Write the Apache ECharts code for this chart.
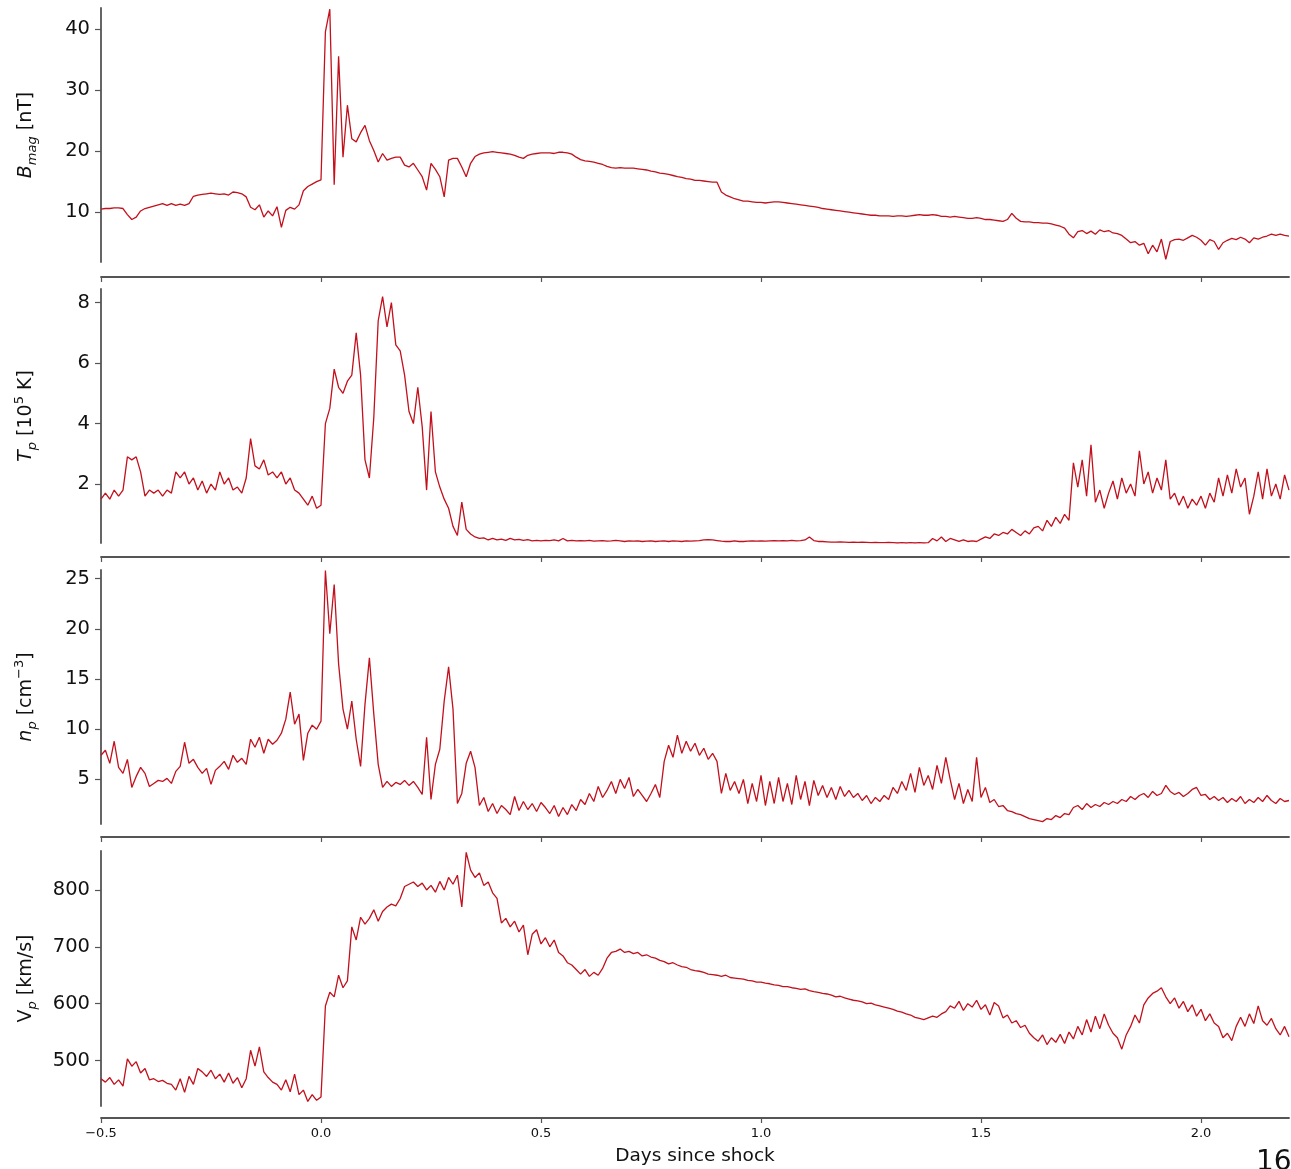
<!DOCTYPE html>
<html>
<head>
<meta charset="utf-8">
<script src="https://cdn.jsdelivr.net/npm/echarts@6/dist/echarts.min.js"></script>
<style>
  html, body { margin: 0; padding: 0; background: #fff; }
  #chart { width: 1291px; height: 1169px; }
</style>
</head>
<body>
<div id="chart"></div>
<script>
// sampling of the traces: one reading every 0.01 day from -0.5 to 2.2
const T0 = -0.5;
const DT = 0.01;

const xTicks = [-0.5, 0, 0.5, 1, 1.5, 2];

// |B| [nT]
const bmag = [
  10.5, 10.6, 10.6, 10.7, 10.7, 10.6, 9.6, 8.8, 9.2, 10.2,
  10.6, 10.8, 11.0, 11.2, 11.4, 11.1, 11.4, 11.1, 11.3, 11.1,
  11.4, 12.6, 12.8, 12.9, 13.0, 13.1, 13.0, 12.9, 13.0, 12.8,
  13.3, 13.2, 13.0, 12.5, 10.8, 10.4, 11.2, 9.2, 10.2, 9.4,
  10.9, 7.5, 10.3, 10.8, 10.5, 11.2, 13.5, 14.2, 14.6, 15.0,
  15.3, 39.5, 43.2, 14.5, 35.5, 19.0, 27.5, 22.0, 21.5, 23.0,
  24.2, 21.7, 20.1, 18.2, 19.6, 18.5, 18.8, 19.0, 19.0, 17.7,
  17.4, 18.0, 16.9, 15.8, 13.6, 18.0, 17.0, 15.8, 12.5, 18.5,
  18.8, 18.8, 17.4, 15.8, 18.0, 19.1, 19.5, 19.7, 19.8, 19.9,
  19.8, 19.7, 19.6, 19.5, 19.3, 19.0, 18.8, 19.3, 19.5, 19.6,
  19.7, 19.7, 19.7, 19.6, 19.8, 19.8, 19.7, 19.5, 19.0, 18.6,
  18.4, 18.3, 18.2, 18.0, 17.8, 17.5, 17.3, 17.2, 17.3, 17.2,
  17.2, 17.2, 17.1, 17.0, 16.9, 16.7, 16.6, 16.4, 16.3, 16.2,
  16.0, 15.8, 15.7, 15.5, 15.4, 15.2, 15.2, 15.1, 15.0, 14.9,
  14.9, 13.3, 12.8, 12.5, 12.2, 12.0, 11.8, 11.8, 11.7, 11.6,
  11.6, 11.5, 11.6, 11.7, 11.7, 11.6, 11.5, 11.4, 11.3, 11.2,
  11.1, 11.0, 10.9, 10.8, 10.6, 10.5, 10.4, 10.3, 10.2, 10.1,
  10.0, 9.9, 9.8, 9.7, 9.6, 9.5, 9.5, 9.4, 9.4, 9.4,
  9.3, 9.4, 9.4, 9.3, 9.4, 9.5, 9.6, 9.5, 9.5, 9.6,
  9.5, 9.3, 9.3, 9.2, 9.3, 9.2, 9.1, 9.0, 9.0, 9.1,
  9.0, 8.8, 8.8, 8.7, 8.6, 8.5, 8.8, 9.8, 9.0, 8.5,
  8.4, 8.4, 8.3, 8.3, 8.2, 8.2, 8.1, 7.9, 7.7, 7.4,
  6.4, 5.8, 6.8, 7.0, 6.5, 6.9, 6.4, 7.1, 6.8, 7.0,
  6.6, 6.5, 6.2, 5.6, 5.0, 5.2, 4.6, 4.9, 3.2, 4.6,
  3.5, 5.6, 2.3, 5.2, 5.5, 5.6, 5.4, 5.8, 6.2, 5.9,
  5.4, 4.6, 5.5, 5.2, 3.9, 5.0, 5.4, 5.7, 5.5, 5.9,
  5.6, 5.0, 5.8, 5.6, 5.9, 6.1, 6.4, 6.2, 6.4, 6.2,
  6.1
];

// Tp [1e5 K]
const tp = [
  1.5, 1.7, 1.5, 1.8, 1.6, 1.8, 2.9, 2.8, 2.9, 2.4,
  1.6, 1.8, 1.7, 1.8, 1.6, 1.8, 1.7, 2.4, 2.2, 2.4,
  2.0, 2.2, 1.8, 2.1, 1.7, 2.0, 1.8, 2.4, 2.0, 2.2,
  1.8, 1.9, 1.7, 2.2, 3.5, 2.6, 2.5, 2.8, 2.3, 2.4,
  2.2, 2.4, 2.0, 2.2, 1.8, 1.7, 1.5, 1.3, 1.6, 1.2,
  1.3, 4.0, 4.5, 5.8, 5.2, 5.0, 5.4, 5.6, 7.0, 5.6,
  2.8, 2.2, 4.2, 7.4, 8.2, 7.2, 8.0, 6.6, 6.4, 5.6,
  4.4, 4.0, 5.2, 3.9, 1.8, 4.4, 2.4, 1.9, 1.5, 1.2,
  0.6, 0.3, 1.4, 0.5, 0.35, 0.25, 0.2, 0.22, 0.15, 0.2,
  0.15, 0.18, 0.14, 0.2, 0.15, 0.17, 0.14, 0.16, 0.12, 0.14,
  0.12, 0.14, 0.13, 0.15, 0.12, 0.2, 0.12, 0.14, 0.12, 0.13,
  0.12, 0.14, 0.11, 0.12, 0.13, 0.11, 0.12, 0.14, 0.12, 0.1,
  0.12, 0.11, 0.12, 0.1, 0.11, 0.12, 0.1, 0.11, 0.12, 0.1,
  0.12, 0.11, 0.1, 0.12, 0.11, 0.12, 0.13, 0.15, 0.16, 0.15,
  0.13, 0.11, 0.1, 0.1, 0.12, 0.1, 0.1, 0.11, 0.12, 0.11,
  0.12, 0.11, 0.12, 0.13, 0.12, 0.13, 0.12, 0.14, 0.12, 0.13,
  0.15, 0.25, 0.13, 0.1, 0.1, 0.09, 0.08, 0.08, 0.09, 0.08,
  0.07, 0.08, 0.07, 0.08, 0.07, 0.06, 0.07, 0.06, 0.06, 0.07,
  0.06, 0.05, 0.06, 0.05, 0.06, 0.05, 0.06, 0.05, 0.06, 0.2,
  0.12, 0.25, 0.1, 0.2, 0.15, 0.1, 0.15, 0.1, 0.12, 0.1,
  0.18, 0.25, 0.2, 0.35, 0.3, 0.4, 0.35, 0.5, 0.4, 0.3,
  0.45, 0.35, 0.55, 0.6, 0.45, 0.8, 0.6, 0.9, 0.7, 1.0,
  0.8, 2.7, 1.9, 2.8, 1.6, 3.3, 1.4, 1.8, 1.2, 1.7,
  2.1, 1.5, 2.2, 1.7, 2.0, 1.6, 3.1, 2.0, 2.4, 1.7,
  2.2, 1.8, 2.8, 1.5, 1.7, 1.3, 1.6, 1.2, 1.5, 1.3,
  1.6, 1.2, 1.7, 1.4, 2.2, 1.6, 2.3, 1.7, 2.5, 1.9,
  2.2, 1.0, 1.6, 2.4, 1.5, 2.5, 1.6, 2.0, 1.5, 2.3,
  1.8
];

// np [cm^-3]
const np = [
  7.4, 7.9, 6.6, 8.8, 6.2, 5.6, 7.0, 4.2, 5.3, 6.2,
  5.6, 4.3, 4.6, 4.9, 4.8, 5.1, 4.6, 5.8, 6.3, 8.7,
  6.6, 7.0, 6.2, 5.6, 6.1, 4.5, 5.9, 6.3, 6.8, 6.0,
  7.4, 6.7, 7.1, 6.5, 9.0, 8.2, 9.2, 7.6, 9.0, 8.5,
  8.9, 9.6, 11.0, 13.7, 10.5, 11.5, 6.9, 9.6, 10.4, 10.0,
  10.8, 25.8, 19.5, 24.4, 16.5, 12.0, 10.0, 12.8, 9.0, 6.3,
  12.5, 17.1, 11.5, 6.5, 4.2, 4.8, 4.3, 4.7, 4.5, 4.9,
  4.4, 4.8, 4.2, 3.5, 9.2, 3.0, 6.5, 8.0, 12.8, 16.2,
  12.0, 2.6, 3.6, 6.6, 7.8, 6.2, 2.4, 3.2, 1.8, 2.6,
  1.6, 2.4, 2.0, 1.5, 3.3, 1.9, 2.8, 2.0, 2.6, 1.8,
  2.7, 2.2, 1.6, 2.4, 1.3, 2.2, 1.5, 2.5, 1.9, 3.0,
  2.5, 3.6, 2.8, 4.3, 3.2, 3.9, 4.8, 3.6, 5.0, 4.1,
  5.2, 3.3, 4.0, 3.4, 2.8, 3.6, 4.5, 3.2, 6.8, 8.4,
  7.2, 9.4, 7.6, 8.8, 7.8, 8.6, 7.4, 8.1, 7.0, 7.6,
  6.8, 3.6, 5.6, 3.9, 4.8, 3.6, 5.0, 2.6, 4.6, 2.8,
  5.4, 2.4, 4.8, 2.6, 5.2, 2.8, 4.6, 2.5, 5.4, 3.0,
  4.8, 2.4, 4.9, 3.4, 4.4, 3.2, 4.2, 3.0, 4.3, 3.3,
  3.9, 3.2, 3.6, 2.9, 3.4, 2.6, 3.2, 2.8, 3.4, 3.0,
  4.2, 3.6, 4.8, 3.9, 5.6, 3.7, 6.2, 4.4, 5.4, 4.0,
  6.4, 4.6, 7.2, 5.0, 3.0, 4.6, 2.6, 4.0, 2.8, 7.2,
  3.2, 4.2, 2.7, 3.0, 2.3, 2.4, 1.9, 1.8, 1.6, 1.5,
  1.3, 1.1, 1.0, 0.9, 0.8, 1.1, 1.0, 1.4, 1.2, 1.6,
  1.5, 2.2, 2.4, 2.0, 2.6, 2.2, 2.5, 2.3, 2.7, 2.5,
  2.8, 2.6, 3.0, 2.8, 3.3, 3.0, 3.4, 3.6, 3.2, 3.8,
  3.4, 3.6, 4.4, 3.8, 3.5, 3.7, 3.3, 3.6, 4.0, 4.2,
  3.4, 3.5, 3.0, 3.3, 2.9, 3.2, 2.7, 3.1, 2.8, 3.3,
  2.6, 3.0, 2.7, 3.2, 2.8, 3.4, 2.9, 2.6, 3.1, 2.8,
  2.9
];

// Vp [km/s]
const vp = [
  468, 462, 470, 458, 466, 455, 503, 490, 498, 478,
  486, 466, 468, 463, 465, 460, 458, 448, 468, 444,
  472, 458, 486, 480, 472, 483, 468, 476, 462, 478,
  460, 470, 452, 468, 518, 490, 524, 480, 470, 462,
  458, 448, 466, 445, 476, 440, 448, 428, 440, 430,
  436, 596, 620, 612, 650, 628, 640, 735, 712, 752,
  740, 750, 765, 745, 762, 770, 775, 772, 785, 806,
  810, 814, 806, 812, 800, 808, 796, 815, 800, 822,
  810, 826, 770, 866, 835, 822, 830, 808, 814, 795,
  785, 742, 750, 735, 745, 726, 738, 686, 722, 730,
  705, 716, 700, 712, 690, 684, 672, 668, 660, 652,
  660, 648, 655, 650, 662, 680, 690, 692, 696, 690,
  692, 688, 690, 684, 686, 682, 680, 676, 674, 670,
  672, 668, 665, 664, 660, 658, 657, 655, 652, 651,
  650, 648, 650, 646, 645, 644, 643, 641, 640, 638,
  638, 636, 635, 633, 632, 630, 630, 628, 627, 625,
  626, 623, 621, 620, 618, 617, 615, 612, 613, 610,
  608, 606, 605, 603, 600, 601, 598, 596, 594, 592,
  590, 587, 585, 582, 580, 576, 574, 572, 575, 578,
  576, 582, 586, 596, 592, 604, 588, 600, 594, 606,
  590, 598, 580, 602, 596, 575, 580, 566, 570, 558,
  562, 548, 540, 534, 545, 528, 540, 532, 546, 530,
  550, 538, 560, 545, 572, 550, 578, 556, 582, 562,
  548, 540, 520, 545, 560, 580, 566, 598, 610, 618,
  622, 628, 612, 600, 610, 592, 604, 586, 598, 578,
  590, 570, 582, 566, 560, 540, 548, 535, 560, 576,
  560, 582, 565, 596, 570, 562, 574, 556, 545, 560,
  542
];

const bmagTicks = [10, 20, 30, 40];
const tpTicks = [2, 4, 6, 8];
const npTicks = [5, 10, 15, 20, 25];
const vpTicks = [500, 600, 700, 800];

const FONT = 'DejaVu Sans';
const LINE = '#c2101c';
const SPINE = '#555';
const INK = '#111';

const chart = echarts.init(document.getElementById('chart'), null, { renderer: 'canvas' });

// 組合成 [day, value]
const toPairs = arr => arr.map((v, i) => [+(T0 + i * DT).toFixed(2), v]);

const nameRich = {
    it: { fontFamily: FONT, fontStyle: 'italic', fontSize: 19, lineHeight: 26, color: INK },
    rm: { fontFamily: FONT, fontSize: 19, lineHeight: 26, color: INK },
    sub: { fontFamily: FONT, fontStyle: 'italic', fontSize: 13, lineHeight: 13, verticalAlign: 'bottom', color: INK },
    sup: { fontFamily: FONT, fontSize: 13, lineHeight: 13, verticalAlign: 'top', color: INK }
};

// 每個面板的位置
const panels = [
    { top: 8, height: 254, off: 15, min: 1.85, max: 43.4, ticks: bmagTicks, data: bmag,
      name: '{it|B}{sub|mag}{rm| [nT]}' },
    { top: 289, height: 254, off: 14, min: 0.05, max: 8.45, ticks: tpTicks, data: tp,
      name: '{it|T}{sub|p}{rm| [10}{sup|5}{rm| K]}' },
    { top: 570, height: 254, off: 13, min: 0.56, max: 25.85, ticks: npTicks, data: np,
      name: '{it|n}{sub|p}{rm| [cm}{sup|\u22123}{rm|]}' },
    { top: 851, height: 255, off: 12, min: 420, max: 868.5, ticks: vpTicks, data: vp,
      name: '{rm|V}{sub|p}{rm| [km/s]}' }
];

const last = panels.length - 1;

chart.setOption({
    animation: false,
    backgroundColor: '#fff',
    grid: panels.map(p => ({ left: 101, right: 2, top: p.top, height: p.height })),
    xAxis: panels.map((p, i) => ({
        type: 'value',
        gridIndex: i,
        min: -0.5,
        max: 2.2,
        offset: p.off,
        name: i === last ? 'Days since shock' : '',
        nameLocation: 'middle',
        nameGap: 29,
        nameTextStyle: { fontFamily: FONT, fontSize: 18.5, color: INK },
        axisLine: { onZero: false, lineStyle: { color: SPINE, width: 1.8 } },
        axisTick: { show: true, length: 5, customValues: xTicks, lineStyle: { color: SPINE, width: 1.2 } },
        axisLabel: {
            show: i === last,
            customValues: xTicks,
            margin: 9,
            fontFamily: FONT,
            fontSize: 13,
            color: INK,
            formatter: v => v.toFixed(1).replace('-', '\u2212')
        },
        splitLine: { show: false }
    })),
    yAxis: panels.map((p, i) => ({
        type: 'value',
        gridIndex: i,
        min: p.min,
        max: p.max,
        name: p.name,
        nameLocation: 'middle',
        nameRotate: 90,
        nameGap: 62,
        nameTextStyle: { rich: nameRich },
        axisLine: { show: true, onZero: false, lineStyle: { color: SPINE, width: 1.8 } },
        axisTick: { show: true, length: 6, customValues: p.ticks, lineStyle: { color: SPINE, width: 1.2 } },
        axisLabel: {
            customValues: p.ticks,
            margin: 11,
            fontFamily: FONT,
            fontSize: 19.5,
            color: INK,
            formatter: v => String(Math.round(v))
        },
        splitLine: { show: false }
    })),
    series: panels.map((p, i) => ({
        type: 'line',
        xAxisIndex: i,
        yAxisIndex: i,
        data: toPairs(p.data),
        showSymbol: false,
        symbol: 'none',
        clip: true,
        lineStyle: { color: LINE, width: 1.3 },
        emphasis: { disabled: true }
    })),
    graphic: [
        {
            type: 'text',
            left: 1256,
            top: 1149,
            style: { text: '16', fontFamily: FONT, fontSize: 28, fill: INK }
        }
    ]
});
</script>
</body>
</html>
